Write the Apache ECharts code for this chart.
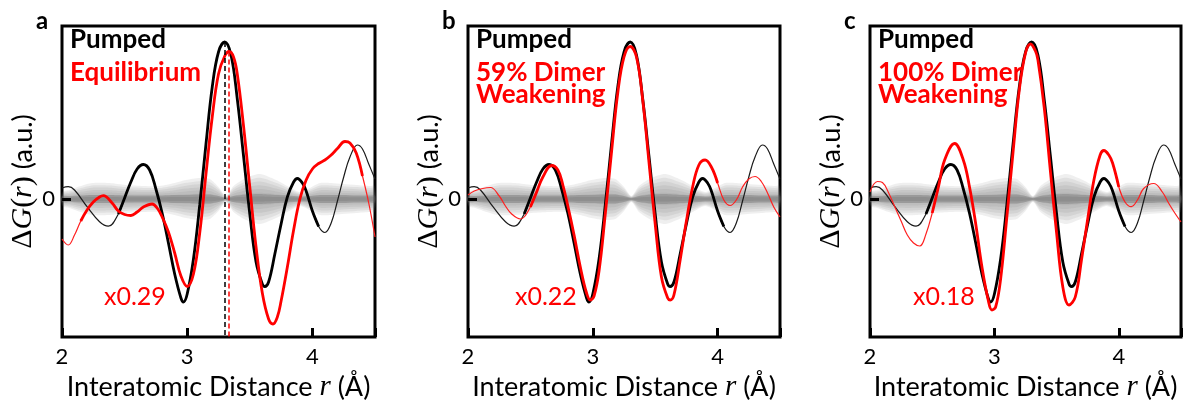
<!DOCTYPE html>
<html><head><meta charset="utf-8">
<script src="https://cdn.jsdelivr.net/npm/echarts@6/dist/echarts.min.js"></script>
<style>html,body{margin:0;padding:0;background:#fff}#c{width:1187px;height:402px}</style>
</head><body><div id="c"></div>
<script>
// ---------- data ----------
const X_LABELS = [2, 3, 4];
const Y_TICKS = [0];
const PANEL_LETTERS = ['a', 'b', 'c'];
const PUMPED_NAME = 'Pumped';
const MODEL_NAMES = [['Equilibrium'], ['59% Dimer', 'Weakening'], ['100% Dimer', 'Weakening']];
const SCALE_LABELS = ['x0.29', 'x0.22', 'x0.18'];

// Pumped ΔG(r) (same in all panels)
const PUMP_R = [2.0, 2.05, 2.1, 2.2, 2.3, 2.37, 2.45, 2.5, 2.55, 2.6, 2.65, 2.7, 2.75, 2.8, 2.85, 2.9, 2.95, 2.97, 3.0, 3.05, 3.1, 3.15, 3.2, 3.25, 3.3, 3.35, 3.4, 3.45, 3.5, 3.55, 3.6, 3.62, 3.65, 3.7, 3.75, 3.8, 3.85, 3.88, 3.92, 3.95, 4.0, 4.05, 4.1, 4.15, 4.2, 4.25, 4.3, 4.36, 4.4, 4.45, 4.5];
const PUMP_G = [0.11, 0.123, 0.09, -0.077, -0.227, -0.272, -0.15, 0.01, 0.17, 0.3, 0.345, 0.29, 0.1, -0.143, -0.44, -0.75, -0.99, -1.03, -0.95, -0.6, -0.06, 0.55, 1.12, 1.47, 1.57, 1.44, 1.0, 0.43, -0.15, -0.63, -0.85, -0.875, -0.83, -0.55, -0.25, 0.02, 0.17, 0.205, 0.16, 0.08, -0.12, -0.275, -0.335, -0.24, -0.02, 0.22, 0.42, 0.54, 0.5, 0.35, 0.2];

// Equilibrium (scaled x0.29)
const EQ_R = [2.0, 2.05, 2.1, 2.15, 2.2, 2.25, 2.3, 2.33, 2.4, 2.45, 2.5, 2.55, 2.6, 2.65, 2.72, 2.76, 2.8, 2.85, 2.9, 2.95, 3.0, 3.05, 3.1, 3.15, 3.2, 3.25, 3.3, 3.335, 3.37, 3.4, 3.45, 3.5, 3.55, 3.6, 3.65, 3.685, 3.72, 3.75, 3.8, 3.85, 3.9, 3.95, 4.0, 4.05, 4.1, 4.15, 4.2, 4.26, 4.3, 4.35, 4.4, 4.45, 4.5];
const EQ_G = [-0.40, -0.46, -0.36, -0.22, -0.11, -0.03, 0.02, 0.033, -0.04, -0.12, -0.155, -0.165, -0.13, -0.08, -0.05, -0.09, -0.18, -0.33, -0.54, -0.77, -0.875, -0.75, -0.34, 0.25, 0.82, 1.25, 1.43, 1.475, 1.42, 1.25, 0.73, 0.12, -0.48, -0.94, -1.2, -1.25, -1.18, -1.02, -0.68, -0.31, 0.0, 0.19, 0.3, 0.355, 0.39, 0.44, 0.505, 0.575, 0.56, 0.46, 0.23, -0.04, -0.38];

// 59% dimer weakening (scaled x0.22)
const W59_R = [2.0, 2.05, 2.1, 2.18, 2.25, 2.3, 2.35, 2.42, 2.5, 2.55, 2.6, 2.67, 2.72, 2.76, 2.8, 2.85, 2.9, 2.95, 2.98, 3.01, 3.05, 3.1, 3.15, 3.2, 3.25, 3.3, 3.35, 3.4, 3.45, 3.5, 3.55, 3.6, 3.62, 3.65, 3.7, 3.75, 3.8, 3.85, 3.9, 3.95, 4.0, 4.05, 4.1, 4.15, 4.2, 4.25, 4.3, 4.35, 4.4, 4.45, 4.5];
const W59_G = [0.04, 0.08, 0.1, 0.115, 0.03, -0.07, -0.15, -0.2, -0.08, 0.07, 0.22, 0.335, 0.29, 0.14, -0.07, -0.36, -0.68, -0.94, -1.01, -0.97, -0.72, -0.15, 0.47, 1.06, 1.42, 1.525, 1.42, 0.99, 0.37, -0.25, -0.78, -0.99, -1.01, -0.96, -0.61, -0.22, 0.12, 0.34, 0.39, 0.32, 0.16, -0.01, -0.065, -0.01, 0.12, 0.2, 0.225, 0.175, 0.06, -0.08, -0.18];

// 100% dimer weakening (scaled x0.18)
const W100_R = [2.0, 2.06, 2.1, 2.15, 2.2, 2.25, 2.3, 2.35, 2.4, 2.45, 2.5, 2.55, 2.6, 2.68, 2.75, 2.8, 2.85, 2.9, 2.95, 2.98, 3.01, 3.05, 3.1, 3.15, 3.2, 3.25, 3.29, 3.33, 3.35, 3.4, 3.45, 3.5, 3.55, 3.6, 3.65, 3.7, 3.75, 3.8, 3.85, 3.88, 3.92, 3.95, 4.0, 4.05, 4.1, 4.15, 4.2, 4.28, 4.35, 4.4, 4.45, 4.5];
const W100_G = [0.07, 0.175, 0.165, 0.06, -0.08, -0.22, -0.36, -0.44, -0.47, -0.35, -0.14, 0.12, 0.39, 0.555, 0.39, 0.12, -0.25, -0.68, -1.01, -1.11, -1.08, -0.8, -0.18, 0.47, 1.09, 1.46, 1.55, 1.48, 1.39, 0.92, 0.28, -0.34, -0.88, -1.06, -0.98, -0.61, -0.2, 0.19, 0.44, 0.485, 0.44, 0.36, 0.12, -0.03, -0.077, -0.01, 0.105, 0.155, 0.07, -0.04, -0.14, -0.23];

// peak positions marked in panel a
const DASH_R = [3.30, 3.335];
const DASH_TOP = [1.57, 1.475];

// uncertainty band around zero (half-widths)
const BAND_R = [2.0, 2.06, 2.15, 2.24, 2.38, 2.51, 2.65, 2.78, 2.9, 2.99, 3.1, 3.18, 3.25, 3.31, 3.37, 3.47, 3.58, 3.71, 3.8, 3.9, 3.98, 4.06, 4.15, 4.24, 4.35, 4.46, 4.5];
const BAND_OUTER = [0.07, 0.09, 0.13, 0.16, 0.16, 0.14, 0.13, 0.13, 0.16, 0.19, 0.21, 0.2, 0.12, 0.03, 0.13, 0.21, 0.25, 0.19, 0.13, 0.07, 0.11, 0.16, 0.16, 0.15, 0.14, 0.13, 0.13];
const BAND_CORE = [0.03, 0.03, 0.035, 0.04, 0.04, 0.035, 0.035, 0.035, 0.04, 0.04, 0.045, 0.045, 0.03, 0.012, 0.03, 0.045, 0.05, 0.04, 0.035, 0.025, 0.03, 0.04, 0.04, 0.04, 0.035, 0.035, 0.035];

const Y_MIN = -1.38, Y_MAX = 1.73, X_MIN = 2, X_MAX = 4.5;

// ---------- layout ----------
const GRID_LEFT = [62, 468, 870];
const GRID_W = [313, 312, 311];
const GRID_TOP = 26, GRID_H = 311;
const MODELS = [[EQ_R, EQ_G], [W59_R, W59_G], [W100_R, W100_G]];
const RED_THICK = [[2.15, 4.4], [2.5, 4.02], [2.5, 4.02]];
const BLACK_THICK = [2.45, 4.05];
const SANS = 'Lato';
const SERIF = 'Liberation Serif';
const HAZE_STEPS = [1.0, 0.85, 0.7, 0.55, 0.4, 0.25];

function pts(r, g) { return r.map((v, i) => [v, g[i]]); }
function sub(r, g, lo, hi) { return pts(r, g).filter(p => p[0] >= lo - 1e-9 && p[0] <= hi + 1e-9); }

function bandSeries(k) {
  return {
    type: 'custom', xAxisIndex: k, yAxisIndex: k, silent: true, z: 1,
    data: BAND_R.map((r, i) => [r, BAND_OUTER[i]]),
    encode: { x: 0, y: 1 },
    renderItem: function (params, api) {
      if (params.dataIndex !== 0) return null;
      const poly = (W, f, op, fill) => {
        const up = BAND_R.map((r, i) => api.coord([r, W[i] * f]));
        const lo = BAND_R.map((r, i) => api.coord([r, -W[i] * f])).reverse();
        return { type: 'polygon', shape: { points: up.concat(lo), smooth: 0.25 }, style: { fill: fill, opacity: op } };
      };
      const children = HAZE_STEPS.map(f => poly(BAND_OUTER, f, 0.11, '#707070'));
      children.push(poly(BAND_CORE, 1, 0.3, '#606060'));
      children.push(poly(BAND_CORE, 0.5, 0.2, '#606060'));
      return { type: 'group', children: children };
    }
  };
}

const grid = [], xAxis = [], yAxis = [], series = [], graphic = [];
for (let k = 0; k < 3; k++) {
  grid.push({ left: GRID_LEFT[k], top: GRID_TOP, width: GRID_W[k], height: GRID_H, show: true, borderColor: '#000', borderWidth: 3, backgroundColor: 'rgba(0,0,0,0)', outerBoundsMode: 'none', containLabel: false });
  xAxis.push({
    type: 'value', gridIndex: k, min: X_MIN, max: X_MAX, interval: 1, z: 10,
    axisLine: { show: false, onZero: false },
    axisTick: { show: true, inside: true, length: 9, lineStyle: { color: '#000', width: 3 } },
    axisLabel: { customValues: X_LABELS, margin: 9, fontSize: 22, fontFamily: SANS, color: '#000' },
    splitLine: { show: false },
    name: 'Interatomic Distance {i|r} (Å)', nameLocation: 'middle', nameGap: 24,
    nameTextStyle: { fontSize: 27, fontFamily: SANS, color: '#000', rich: { i: { fontFamily: SERIF, fontStyle: 'italic', fontSize: 29, color: '#000' } } }
  });
  yAxis.push({
    type: 'value', gridIndex: k, min: Y_MIN, max: Y_MAX, z: 10,
    axisLine: { show: false, onZero: false },
    axisTick: { show: true, inside: true, length: 9, customValues: Y_TICKS, lineStyle: { color: '#000', width: 3 } },
    axisLabel: { customValues: Y_TICKS, margin: 7, fontSize: 22, fontFamily: SANS, color: '#000' },
    splitLine: { show: false },
    name: '{m|Δ}{i|G}{m|(}{i|r}{m|)} (a.u.)', nameLocation: 'middle', nameGap: 14,
    nameTextStyle: { fontSize: 27, fontFamily: SANS, color: '#000', rich: {
      m: { fontFamily: SERIF, fontSize: 30, color: '#000' },
      i: { fontFamily: SERIF, fontStyle: 'italic', fontSize: 30, color: '#000' } } }
  });

  // uncertainty band
  series.push(bandSeries(k));

  // pumped (black)
  series.push({ type: 'line', xAxisIndex: k, yAxisIndex: k, symbol: 'none', smooth: 0.4, z: 3,
    lineStyle: { color: '#1a1a1a', width: 1.2 }, data: pts(PUMP_R, PUMP_G) });
  const blackThick = { type: 'line', xAxisIndex: k, yAxisIndex: k, symbol: 'none', smooth: 0.4, z: 3,
    lineStyle: { color: '#000', width: 2.8 }, data: sub(PUMP_R, PUMP_G, BLACK_THICK[0], BLACK_THICK[1]) };
  series.push(blackThick);

  // model (red)
  const M = MODELS[k];
  series.push({ type: 'line', xAxisIndex: k, yAxisIndex: k, symbol: 'none', smooth: 0.4, z: 4,
    lineStyle: { color: '#ff2020', width: 1.2 }, data: pts(M[0], M[1]) });
  const redThick = { type: 'line', xAxisIndex: k, yAxisIndex: k, symbol: 'none', smooth: 0.4, z: 4,
    lineStyle: { color: '#ff0000', width: 2.8 }, data: sub(M[0], M[1], RED_THICK[k][0], RED_THICK[k][1]) };
  series.push(redThick);

  if (k === 0) {
    blackThick.markLine = { silent: true, symbol: 'none', label: { show: false },
      lineStyle: { color: '#000', width: 1.5, type: [5, 3] },
      data: [[{ coord: [DASH_R[0], DASH_TOP[0]] }, { coord: [DASH_R[0], Y_MIN] }]] };
    redThick.markLine = { silent: true, symbol: 'none', label: { show: false },
      lineStyle: { color: '#ff0000', width: 1.5, type: [5, 3] },
      data: [[{ coord: [DASH_R[1], DASH_TOP[1]] }, { coord: [DASH_R[1], Y_MIN] }]] };
  }

  // annotations
  const L0 = GRID_LEFT[k];
  graphic.push({ type: 'text', left: L0 - 26, top: 9, style: { text: PANEL_LETTERS[k], fill: '#000', font: 'bold 24px ' + SANS } });
  graphic.push({ type: 'text', left: L0 + 8, top: 27, z: 10, style: { text: PUMPED_NAME, fill: '#000', font: 'bold 26px ' + SANS } });
  MODEL_NAMES[k].forEach((t, j) => {
    graphic.push({ type: 'text', left: L0 + 8, top: 60 + j * 22, z: 10, style: { text: t, fill: '#ff0000', font: 'bold 26px ' + SANS } });
  });
  graphic.push({ type: 'text', left: L0 + [42, 47, 43][k], top: 284, z: 10, style: { text: SCALE_LABELS[k], fill: '#ff0000', font: '25px ' + SANS } });
}

const chart = echarts.init(document.getElementById('c'), null, { renderer: 'canvas' });
chart.setOption({ animation: false, backgroundColor: '#fff', grid, xAxis, yAxis, series, graphic });
</script></body></html>
